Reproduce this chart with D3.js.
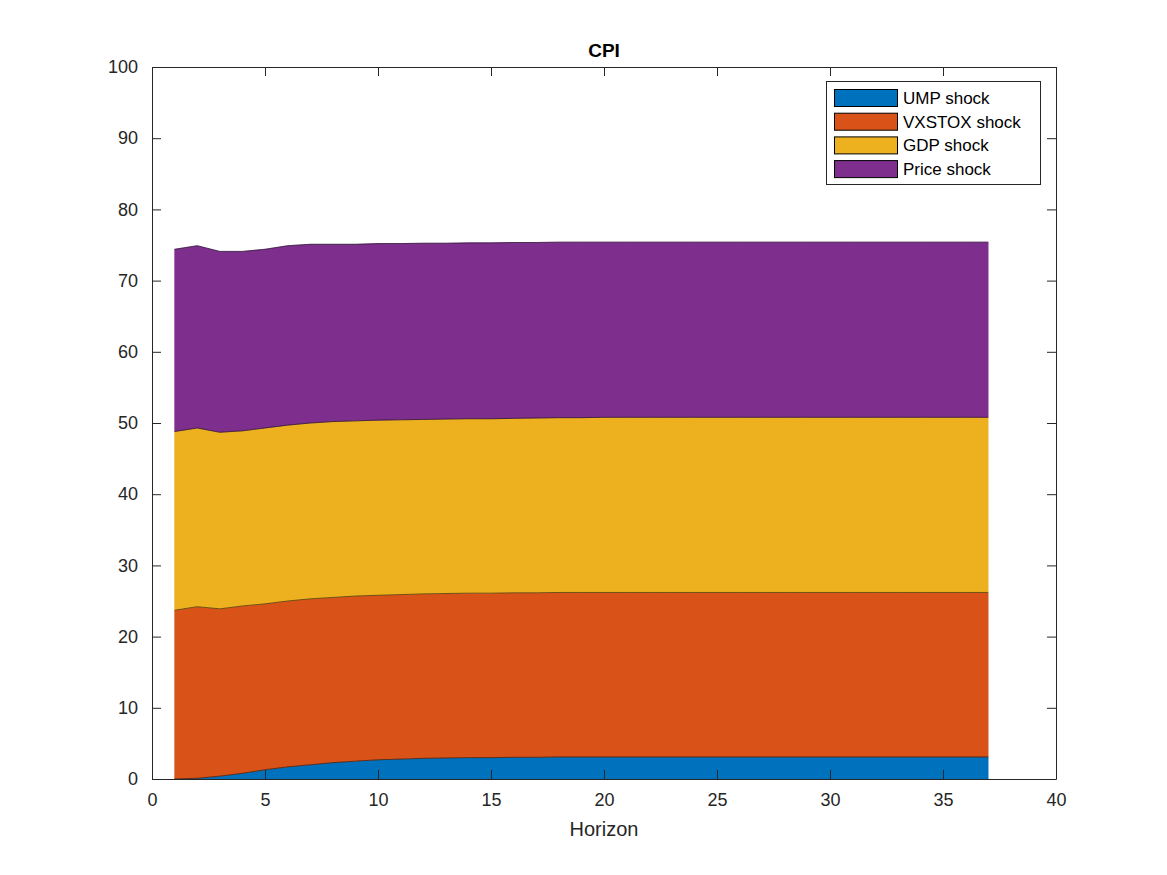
<!DOCTYPE html>
<html>
<head>
<meta charset="utf-8">
<script src="https://cdn.jsdelivr.net/npm/d3@7"></script>
<style>
  body { margin: 0; background: #fff; }
  text { font-family: "Liberation Sans", Arial, Helvetica, sans-serif; fill: #262626; }
</style>
</head>
<body>
<svg id="chart" width="1167" height="875"></svg>
<script>
// horizon steps
var horizon = d3.range(1, 38);

// forecast error variance shares (%) per shock
var ump = [0.0, 0.1, 0.4, 0.8, 1.3, 1.7, 2.0, 2.3, 2.5, 2.7, 2.8, 2.9, 2.95, 3.0, 3.0, 3.05, 3.05,
           3.1, 3.1, 3.1, 3.1, 3.1, 3.1, 3.1, 3.1, 3.1, 3.1, 3.1, 3.1, 3.1, 3.1, 3.1, 3.1, 3.1, 3.1, 3.1, 3.1];
var vxstox = [23.7, 24.1, 23.5, 23.5, 23.3, 23.3, 23.3, 23.2, 23.2, 23.1, 23.1, 23.1, 23.1, 23.1, 23.1, 23.1, 23.1,
              23.1, 23.1, 23.1, 23.1, 23.1, 23.1, 23.1, 23.1, 23.1, 23.1, 23.1, 23.1, 23.1, 23.1, 23.1, 23.1, 23.1, 23.1, 23.1, 23.1];
var gdp = [25.1, 25.1, 24.8, 24.6, 24.7, 24.7, 24.7, 24.7, 24.6, 24.6, 24.55, 24.5, 24.5, 24.5, 24.5, 24.5, 24.55,
           24.55, 24.55, 24.6, 24.6, 24.6, 24.6, 24.6, 24.6, 24.6, 24.6, 24.6, 24.6, 24.6, 24.6, 24.6, 24.6, 24.6, 24.6, 24.6, 24.6];
var price = [25.6, 25.6, 25.4, 25.2, 25.1, 25.2, 25.1, 24.9, 24.8, 24.8, 24.75, 24.75, 24.7, 24.7, 24.7, 24.7, 24.65,
             24.65, 24.65, 24.6, 24.6, 24.6, 24.6, 24.6, 24.6, 24.6, 24.6, 24.6, 24.6, 24.6, 24.6, 24.6, 24.6, 24.6, 24.6, 24.6, 24.6];

var seriesNames = ["UMP shock", "VXSTOX shock", "GDP shock", "Price shock"];
var seriesColors = ["#0072BD", "#D95319", "#EDB120", "#7E2F8E"];
var xTicks = d3.range(0, 41, 5);
var yTicks = d3.range(0, 101, 10);

(function () {

var rows = horizon.map(function (h, i) {
    return { h: h, "UMP shock": ump[i], "VXSTOX shock": vxstox[i], "GDP shock": gdp[i], "Price shock": price[i] };
});

var svg = d3.select("#chart");
var plotLeft = 152, plotRight = 1056, plotTop = 67, plotBottom = 779;

var x = d3.scaleLinear().domain([0, 40]).range([plotLeft, plotRight]);
var y = d3.scaleLinear().domain([0, 100]).range([plotBottom, plotTop]);

var stacked = d3.stack().keys(seriesNames)(rows);

var area = d3.area()
    .x(function (d) { return x(d.data.h); })
    .y0(function (d) { return y(d[0]); })
    .y1(function (d) { return y(d[1]); });

// top edge of each layer
var edge = d3.line()
    .x(function (d) { return x(d.data.h); })
    .y(function (d) { return y(d[1]); });

var layers = svg.append("g");
layers.selectAll("path.fill")
    .data(stacked)
    .join("path")
    .attr("class", "fill")
    .attr("d", area)
    .attr("fill", function (d, i) { return seriesColors[i]; })
    .attr("stroke", function (d, i) { return seriesColors[i]; })
    .attr("stroke-width", 0.5);

layers.selectAll("path.edge")
    .data(stacked)
    .join("path")
    .attr("class", "edge")
    .attr("d", edge)
    .attr("fill", "none")
    .attr("stroke", "#000")
    .attr("stroke-width", 0.7)
    .attr("stroke-opacity", 0.75);

// axes, MATLAB style box with inward ticks
var tickLen = 9;
var axisColor = "#262626";

function styleAxis(g) {
    g.select(".domain").attr("stroke", axisColor);
    g.selectAll(".tick line").attr("stroke", axisColor);
    g.selectAll(".tick text").attr("font-size", 18).attr("fill", axisColor);
}

svg.append("g")
    .attr("transform", "translate(0," + plotBottom + ")")
    .call(d3.axisBottom(x).tickValues(xTicks).tickSizeInner(-tickLen).tickSizeOuter(0).tickPadding(14))
    .call(styleAxis);

svg.append("g")
    .attr("transform", "translate(" + plotLeft + ",0)")
    .call(d3.axisLeft(y).tickValues(yTicks).tickSizeInner(-tickLen).tickSizeOuter(0).tickPadding(14))
    .call(styleAxis);

svg.append("g")
    .attr("transform", "translate(0," + plotTop + ")")
    .call(d3.axisTop(x).tickValues(xTicks).tickSizeInner(-tickLen).tickSizeOuter(0).tickFormat(""))
    .call(styleAxis);

svg.append("g")
    .attr("transform", "translate(" + plotRight + ",0)")
    .call(d3.axisRight(y).tickValues(yTicks).tickSizeInner(-tickLen).tickSizeOuter(0).tickFormat(""))
    .call(styleAxis);

// title and x label
svg.append("text")
    .attr("x", (plotLeft + plotRight) / 2).attr("y", 57)
    .attr("text-anchor", "middle")
    .attr("font-size", 19).attr("font-weight", "bold")
    .style("fill", "#000")
    .text("CPI");

svg.append("text")
    .attr("x", (plotLeft + plotRight) / 2).attr("y", 836)
    .attr("text-anchor", "middle")
    .attr("font-size", 20)
    .text("Horizon");

// legend
var legend = svg.append("g");
legend.append("rect")
    .attr("x", 826.5).attr("y", 81.5)
    .attr("width", 214).attr("height", 103)
    .attr("fill", "#fff").attr("stroke", axisColor).attr("stroke-width", 1);

var item = legend.selectAll("g.item")
    .data(seriesNames)
    .join("g")
    .attr("class", "item")
    .attr("transform", function (d, i) { return "translate(0," + (98 + i * 23.7) + ")"; });

item.append("rect")
    .attr("x", 834.5).attr("y", -8.5)
    .attr("width", 63).attr("height", 17)
    .attr("fill", function (d, i) { return seriesColors[i]; })
    .attr("stroke", "#000").attr("stroke-width", 1);

item.append("text")
    .attr("x", 903).attr("y", 6)
    .attr("font-size", 17)
    .style("fill", "#000")
    .text(function (d) { return d; });

})();
</script>
</body>
</html>
